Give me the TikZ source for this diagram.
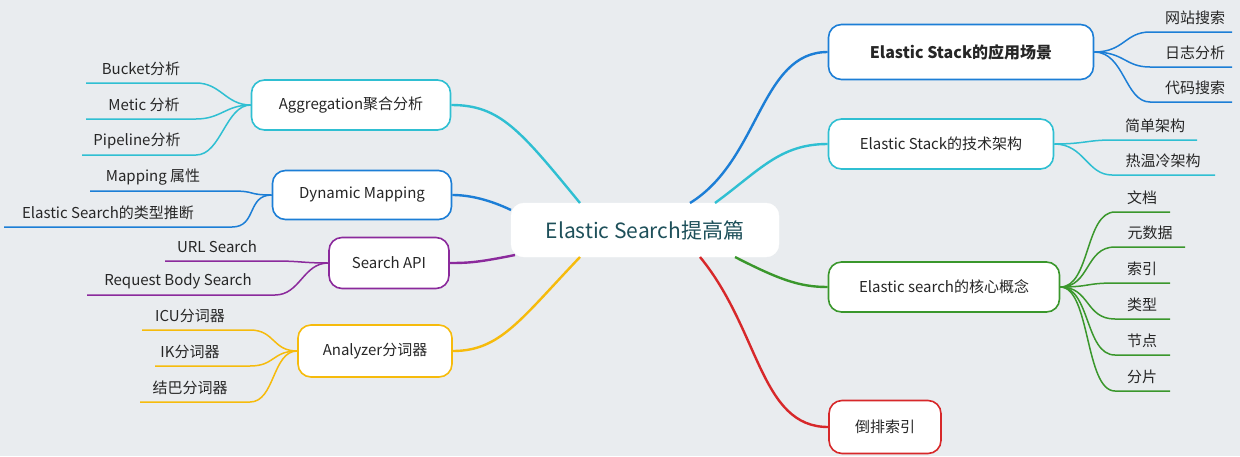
\documentclass[tikz,border=0pt]{standalone}
\usepackage{fontspec}
\setmainfont{Noto Sans CJK SC}
\begin{document}
\begin{tikzpicture}[x=1pt,y=-1pt,
 br/.style={draw,rounded corners=13pt,fill=white,line width=1.6pt,font=\fontsize{15}{18}\selectfont,text=black!85,minimum height=50pt,inner xsep=12pt},
 lf/.style={font=\fontsize{15}{18}\selectfont,text=black!85,inner sep=2pt},
 cn/.style={line width=2.4pt}]
\definecolor{bg}{HTML}{E9ECEF}
\definecolor{cblue}{HTML}{1C7ED6}
\definecolor{ccyan}{HTML}{2FBFD2}
\definecolor{cgreen}{HTML}{3A972C}
\definecolor{cred}{HTML}{D7282A}
\definecolor{cpurple}{HTML}{8B2A9C}
\definecolor{corange}{HTML}{F6BB0C}
\fill[bg] (0,0) rectangle (1240,456);
\useasboundingbox (0,0) rectangle (1240,456);
\node[draw=white,fill=white,rounded corners=13pt,minimum width=268pt,minimum height=54pt,font=\fontsize{21}{24}\selectfont,text={rgb,255:red,30;green,80;blue,90}] (c) at (645,230) {Elastic Search提高篇};
% right branches
\node[br,draw=cblue,minimum width=265pt,minimum height=55pt,font=\fontsize{16}{19}\selectfont\bfseries] (r1) at (961,52) {Elastic Stack的应用场景};
\node[br,draw=ccyan,minimum width=225pt] (r2) at (941,144) {Elastic Stack的技术架构};
\node[br,draw=cgreen,minimum width=231pt] (r3) at (944,287) {Elastic search的核心概念};
\node[br,draw=cred,minimum width=112pt,minimum height=53pt] (r4) at (885,427) {倒排索引};
% left branches
\node[br,draw=ccyan,minimum width=199pt] (l1) at (351,105) {Aggregation聚合分析};
\node[br,draw=cblue,minimum width=179pt,minimum height=49pt] (l2) at (362,195) {Dynamic Mapping};
\node[br,draw=cpurple,minimum width=120pt,minimum height=51pt] (l3) at (389,263) {Search API};
\node[br,draw=corange,minimum width=154pt,minimum height=52pt] (l4) at (375,351) {Analyzer分词器};
% center connectors
\begin{scope}[on background layer/.style={}]
\draw[cn,cblue] (690,203) .. controls (760,160) and (760,52) .. (r1.west);
\draw[cn,ccyan] (715,203) .. controls (760,170) and (780,144) .. (r2.west);
\draw[cn,cgreen] (735,257) .. controls (780,280) and (800,287) .. (r3.west);
\draw[cn,cred] (700,257) .. controls (760,330) and (760,427) .. (r4.west);
\draw[cn,ccyan] (580,203) .. controls (520,130) and (500,105) .. (l1.east);
\draw[cn,cblue] (511,210) .. controls (490,200) and (470,195) .. (l2.east);
\draw[cn,cpurple] (515,255) .. controls (480,262) and (470,263) .. (l3.east);
\draw[cn,corange] (580,257) .. controls (520,320) and (500,351) .. (l4.east);
\end{scope}
% right leaves
\tikzset{leafR/.style n args={4}{}}
\foreach \t/\x/\y/\w [count=\i] in {网站搜索/1195/18/80,日志分析/1195/53/80,代码搜索/1195/88/80}{
 \node[lf] (a\i) at (\x,\y) {\t};
 \draw[cn,cblue,line width=1.5pt] (r1.east) .. controls +(30,0) and +(-25,0) .. (1150,\y+14) -- (1232,\y+14);}
\foreach \t/\x/\y/\e [count=\i] in {简单架构/1155/126/1197,热温冷架构/1163/161/1215}{
 \node[lf] (b\i) at (\x,\y) {\t};
 \draw[cn,ccyan,line width=1.5pt] (r2.east) .. controls +(30,0) and +(-25,0) .. (1112,\y+14) -- (\e,\y+14);}
\foreach \t/\x/\y/\e [count=\i] in {文档/1142/198/1170,元数据/1150/233/1185,索引/1142/269/1170,类型/1142/305/1170,节点/1142/341/1170,分片/1142/377/1170}{
 \node[lf] (g\i) at (\x,\y) {\t};
 \draw[cn,cgreen,line width=1.5pt] (r3.east) .. controls +(30,0) and +(-30,0) .. (1115,\y+14) -- (\e,\y+14);}
% left leaves
\foreach \t/\x/\y/\s [count=\i] in {Bucket分析/141/69/86,Metic 分析/144/105/86,Pipeline分析/137/141/82}{
 \node[lf] (p\i) at (\x,\y) {\t};
 \draw[cn,ccyan,line width=1.5pt] (l1.west) .. controls +(-25,0) and +(25,0) .. (196,\y+14) -- (\s,\y+14);}
\foreach \t/\x/\y/\s [count=\i] in {Mapping 属性/153/177/90,Elastic Search的类型推断/108/213/4}{
 \node[lf] (q\i) at (\x,\y) {\t};
 \draw[cn,cblue,line width=1.5pt] (l2.west) .. controls +(-25,0) and +(25,0) .. (232,\y+14) -- (\s,\y+14);}
\foreach \t/\x/\y/\s [count=\i] in {URL Search/217/247/165,Request Body Search/178/281/87}{
 \node[lf] (u\i) at (\x,\y) {\t};
 \draw[cn,cpurple,line width=1.5pt] (l3.west) .. controls +(-25,0) and +(25,0) .. (275,\y+14) -- (\s,\y+14);}
\foreach \t/\x/\y/\s [count=\i] in {ICU分词器/190/316/142,IK分词器/190/352/155,结巴分词器/190/388/140}{
 \node[lf] (z\i) at (\x,\y) {\t};
 \draw[cn,corange,line width=1.5pt] (l4.west) .. controls +(-25,0) and +(25,0) .. (250,\y+14) -- (\s,\y+14);}
\end{tikzpicture}
\end{document}
